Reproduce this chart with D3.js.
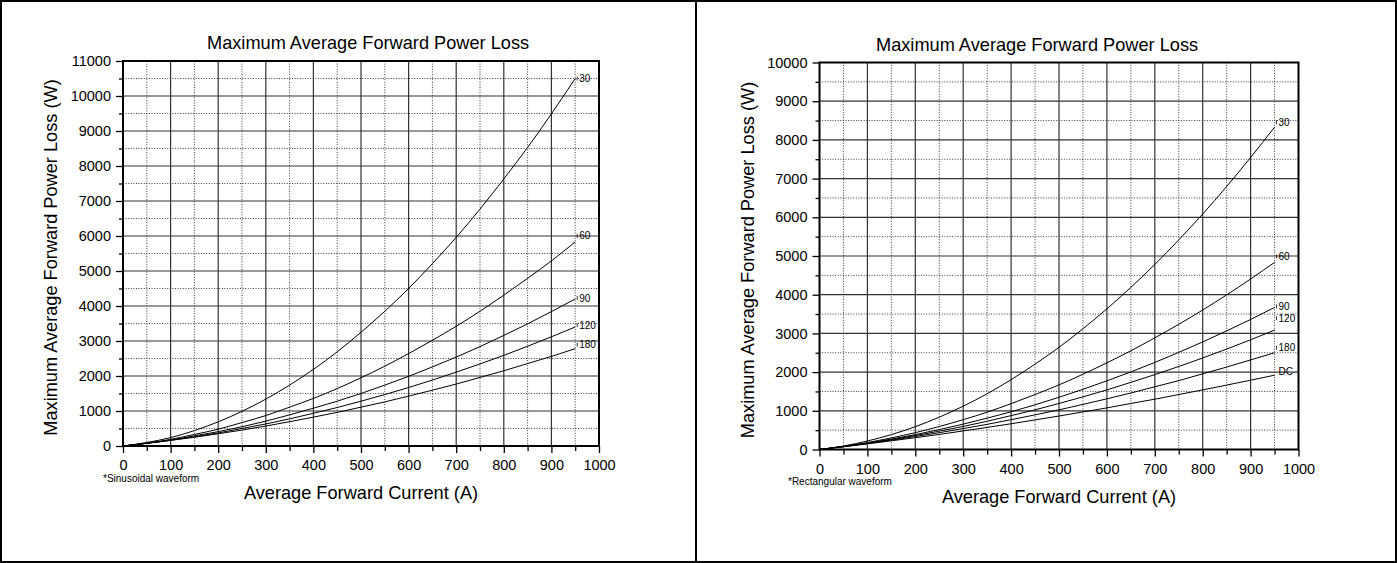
<!DOCTYPE html>
<html>
<head>
<meta charset="utf-8">
<script src="https://cdn.jsdelivr.net/npm/d3@7"></script>
<style>
  html, body { margin: 0; padding: 0; background: #fff; }
  svg { display: block; font-family: "Liberation Sans", Arial, sans-serif; }
</style>
</head>
<body>
<div id="chart"></div>
<script>
// Values (A vs W)
const current = [0, 50, 100, 150, 200, 250, 300, 350, 400, 450, 500, 550, 600, 650, 700, 750, 800, 850, 900, 950];

// sinusoidal waveform, conduction angle in degrees
const sin30  = [0, 100, 240, 440, 690, 990, 1340, 1740, 2190, 2690, 3250, 3850, 4500, 5210, 5960, 6770, 7630, 8530, 9490, 10500];
const sin60  = [0, 80, 190, 330, 480, 670, 870, 1110, 1360, 1640, 1950, 2280, 2640, 3020, 3420, 3850, 4310, 4790, 5290, 5830];
const sin90  = [0, 80, 170, 290, 410, 550, 710, 890, 1080, 1280, 1500, 1740, 1990, 2260, 2540, 2840, 3160, 3490, 3840, 4200];
const sin120 = [0, 75, 165, 265, 375, 500, 630, 775, 935, 1100, 1280, 1470, 1670, 1885, 2110, 2345, 2590, 2850, 3120, 3400];
const sin180 = [0, 75, 160, 250, 350, 455, 570, 695, 825, 960, 1110, 1260, 1425, 1595, 1770, 1960, 2150, 2355, 2560, 2780];

// rectangular waveform
const rect30  = [0, 90, 220, 385, 590, 835, 1120, 1440, 1805, 2205, 2640, 3120, 3635, 4190, 4780, 5415, 6085, 6795, 7545, 8330];
const rect60  = [0, 80, 180, 300, 435, 595, 770, 965, 1185, 1420, 1670, 1945, 2240, 2550, 2885, 3235, 3605, 3995, 4405, 4835];
const rect90  = [0, 75, 165, 270, 385, 515, 655, 810, 975, 1155, 1350, 1555, 1775, 2005, 2250, 2510, 2780, 3065, 3360, 3670];
const rect120 = [0, 75, 160, 255, 360, 475, 595, 730, 875, 1025, 1190, 1360, 1540, 1735, 1935, 2145, 2365, 2595, 2835, 3085];
const rect180 = [0, 75, 155, 240, 335, 435, 540, 650, 770, 895, 1025, 1165, 1310, 1460, 1620, 1780, 1955, 2130, 2315, 2500];
const rectDC  = [0, 70, 145, 225, 305, 390, 480, 570, 665, 765, 865, 970, 1075, 1190, 1300, 1420, 1540, 1665, 1790, 1920];

const sinLabels  = ["30", "60", "90", "120", "180"];
const rectLabels = ["30", "60", "90", "120", "180", "DC"];

const xTicks = [0, 100, 200, 300, 400, 500, 600, 700, 800, 900, 1000];
const yTicksSin  = [0, 1000, 2000, 3000, 4000, 5000, 6000, 7000, 8000, 9000, 10000, 11000];
const yTicksRect = [0, 1000, 2000, 3000, 4000, 5000, 6000, 7000, 8000, 9000, 10000];

const W = 1397, H = 563;

const svg = d3.select("#chart").append("svg")
    .attr("width", W)
    .attr("height", H)
    .attr("viewBox", [0, 0, W, H]);

svg.append("rect").attr("width", W).attr("height", H).attr("fill", "#fff");

function drawPanel(p) {
  const x = d3.scaleLinear().domain([0, 1000]).range([p.left, p.right]);
  const y = d3.scaleLinear().domain([0, d3.max(p.yTicks)]).range([p.bottom, p.top]);
  const g = svg.append("g");

  const xMinor = d3.range(50, 1000, 100);
  const yMinor = d3.range(500, d3.max(p.yTicks), 1000);

  // dotted minor grid
  g.append("g").selectAll("line").data(xMinor).join("line")
      .attr("x1", d => x(d)).attr("x2", d => x(d))
      .attr("y1", p.top).attr("y2", p.bottom)
      .attr("stroke", "#222").attr("stroke-width", 0.9).attr("stroke-dasharray", "1,1.6");
  g.append("g").selectAll("line").data(yMinor).join("line")
      .attr("x1", p.left).attr("x2", p.right)
      .attr("y1", d => y(d)).attr("y2", d => y(d))
      .attr("stroke", "#222").attr("stroke-width", 0.9).attr("stroke-dasharray", "1,1.6");

  // solid major grid
  g.append("g").selectAll("line").data(xTicks.slice(1, -1)).join("line")
      .attr("x1", d => x(d)).attr("x2", d => x(d))
      .attr("y1", p.top).attr("y2", p.bottom)
      .attr("stroke", "#333").attr("stroke-width", 1.2);
  g.append("g").selectAll("line").data(p.yTicks.slice(1, -1)).join("line")
      .attr("x1", p.left).attr("x2", p.right)
      .attr("y1", d => y(d)).attr("y2", d => y(d))
      .attr("stroke", "#333").attr("stroke-width", 1.2);

  // axes
  const xAxis = g.append("g")
      .attr("transform", `translate(0,${p.bottom})`)
      .call(d3.axisBottom(x).tickValues(d3.range(0, 1001, 50)).tickSize(6)
        .tickFormat(d => xTicks.includes(d) ? d : ""))
      .call(a => a.select(".domain").remove());
  xAxis.selectAll(".tick line").attr("stroke", "#000").attr("stroke-width", 1.3);
  xAxis.selectAll(".tick text").attr("font-size", 14.5).attr("fill", "#000")
      .attr("y", 14).attr("dy", "0.71em").attr("font-family", "Liberation Sans, Arial, sans-serif");

  const yAxis = g.append("g")
      .attr("transform", `translate(${p.left},0)`)
      .call(d3.axisLeft(y).tickValues(d3.range(0, d3.max(p.yTicks) + 1, 500)).tickSize(7)
        .tickFormat(d => p.yTicks.includes(d) ? d : ""))
      .call(a => a.select(".domain").remove());
  yAxis.selectAll(".tick line").attr("stroke", "#000").attr("stroke-width", 1.3)
      .attr("x2", d => p.yTicks.includes(d) ? -7 : -4);
  yAxis.selectAll(".tick text").attr("font-size", 14.5).attr("fill", "#000")
      .attr("x", -12).attr("font-family", "Liberation Sans, Arial, sans-serif");
  xAxis.selectAll(".tick line").attr("y2", d => xTicks.includes(d) ? 7 : 5);

  // plot frame
  g.append("rect")
      .attr("x", p.left).attr("y", p.top)
      .attr("width", p.right - p.left).attr("height", p.bottom - p.top)
      .attr("fill", "none").attr("stroke", "#000").attr("stroke-width", 2);

  // curves
  const line = d3.line()
      .curve(d3.curveMonotoneX)
      .x((d, i) => x(current[i]))
      .y(d => y(d));

  g.append("g").selectAll("path").data(p.series).join("path")
      .attr("d", line)
      .attr("fill", "none")
      .attr("stroke", "#000")
      .attr("stroke-width", 1);

  // curve labels at the right end
  const lab = g.append("g").selectAll("g").data(p.series).join("g")
      .attr("transform", (d, i) => `translate(${x(950) + 2},${y(d[d.length - 1]) + p.labelDy[i]})`);
  lab.filter((d, i) => p.labels[i] !== "DC").append("line")
      .attr("x1", 0).attr("x2", 0).attr("y1", -2).attr("y2", 2)
      .attr("stroke", "#000").attr("stroke-width", 0.8);
  lab.append("text")
      .attr("x", 2).attr("dy", "0.35em")
      .attr("font-size", 10).attr("fill", "#000")
      .text((d, i) => p.labels[i]);

  // texts
  svg.append("text")
      .attr("x", p.titleX).attr("y", p.titleY).attr("dy", "0.35em")
      .attr("font-size", 18.2).attr("fill", "#000")
      .text("Maximum Average Forward Power Loss");

  svg.append("text")
      .attr("x", (p.left + p.right) / 2).attr("y", p.bottom + 47).attr("dy", "0.35em")
      .attr("text-anchor", "middle")
      .attr("font-size", 18.2).attr("fill", "#000")
      .text("Average Forward Current (A)");

  svg.append("text")
      .attr("x", p.left + p.noteDx).attr("y", p.bottom + 32).attr("dy", "0.35em")
      .attr("font-size", 10).attr("fill", "#000")
      .text(p.note);

  svg.append("text")
      .attr("transform", `translate(${p.left - 72},${(p.top + p.bottom) / 2 + 4}) rotate(-90)`)
      .attr("dy", "0.35em")
      .attr("text-anchor", "middle")
      .attr("font-size", 18.2).attr("fill", "#000")
      .text("Maximum Average Forward Power Loss (W)");
}

drawPanel({
  left: 123, right: 599, top: 61, bottom: 446,
  yTicks: yTicksSin,
  series: [sin30, sin60, sin90, sin120, sin180],
  labels: sinLabels,
  labelDy: [0, -6, -1, -2, -4],
  titleX: 207, titleY: 43,
  note: "*Sinusoidal waveform", noteDx: -20
});

drawPanel({
  left: 819.5, right: 1298.5, top: 62.5, bottom: 449.5,
  yTicks: yTicksRect,
  series: [rect30, rect60, rect90, rect120, rect180, rectDC],
  labels: rectLabels,
  labelDy: [-5, -6, -1, -12, -5, -4],
  titleX: 876, titleY: 45,
  note: "*Rectangular waveform", noteDx: -31.5
});

// outer frame and divider
svg.append("rect")
    .attr("x", 1).attr("y", 1).attr("width", W - 2).attr("height", H - 2)
    .attr("fill", "none").attr("stroke", "#000").attr("stroke-width", 2);
svg.append("line")
    .attr("x1", 696).attr("x2", 696).attr("y1", 0).attr("y2", H)
    .attr("stroke", "#000").attr("stroke-width", 2);
</script>
</body>
</html>
